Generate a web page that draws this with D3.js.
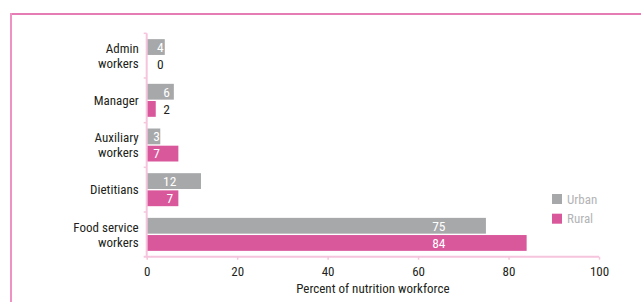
<!DOCTYPE html>
<html>
<head>
<meta charset="utf-8">
<script src="https://cdn.jsdelivr.net/npm/d3@7"></script>
<style>
  body { margin: 0; background: #fff; }
  text { font-family: "Liberation Sans Narrow", "Roboto Condensed", "DejaVu Sans Condensed", sans-serif; }
</style>
</head>
<body>
<div id="chart"></div>
<script>
// chart data
var categories = ["Admin\nworkers", "Manager", "Auxiliary\nworkers", "Dietitians", "Food service\nworkers"];
var series = ["Urban", "Rural"];
var urbanValues = [4, 6, 3, 12, 75];
var ruralValues = [0, 2, 7, 7, 84];
// where the value labels sit (percent units)
var labelAt = [3, 4.4, 2.2, 5.1, 64.6];
var xTicks = [0, 20, 40, 60, 80, 100];

var colors = { Urban: "#a7a8aa", Rural: "#d9579b" };

var svgWidth = 641;
var svgHeight = 302;
var margin = { top: 33.3, right: 42, bottom: 45.3, left: 146.7 };
var width = svgWidth - margin.left - margin.right;
var height = svgHeight - margin.top - margin.bottom;

var svg = d3.select("#chart")
  .append("svg")
  .attr("width", svgWidth)
  .attr("height", svgHeight);

// pink frame (top and left only)
svg.append("line")
  .attr("x1", 10).attr("x2", svgWidth).attr("y1", 14).attr("y2", 14)
  .attr("stroke", "#e57db4").attr("stroke-width", 2);
svg.append("line")
  .attr("x1", 11).attr("x2", 11).attr("y1", 13).attr("y2", svgHeight)
  .attr("stroke", "#ef91c2").attr("stroke-width", 2);

var chartGroup = svg.append("g")
  .attr("transform", `translate(${margin.left}, ${margin.top})`);

var data = categories.map((c, i) => ({
  cat: c,
  idx: i,
  values: [
    { key: "Urban", value: urbanValues[i], at: labelAt[i] },
    { key: "Rural", value: ruralValues[i], at: labelAt[i] }
  ]
}));

var xScale = d3.scaleLinear().domain([0, 100]).range([0, width]);
var yScale = d3.scaleBand().domain(categories).range([0, height]);
var ySub = d3.scaleBand().domain(series).range([0, yScale.bandwidth()])
  .paddingInner(0.08).paddingOuter(0.34);

// bars
var groups = chartGroup.selectAll(".cat")
  .data(data)
  .enter()
  .append("g")
  .attr("transform", d => `translate(0, ${yScale(d.cat)})`);

groups.selectAll("rect")
  .data(d => d.values)
  .enter()
  .append("rect")
  .attr("x", xScale(0))
  .attr("y", d => ySub(d.key))
  .attr("width", d => xScale(d.value))
  .attr("height", ySub.bandwidth())
  .attr("fill", d => colors[d.key]);

groups.selectAll(".val")
  .data(d => d.values)
  .enter()
  .append("text")
  .attr("class", "val")
  .attr("x", d => xScale(d.at))
  .attr("y", d => ySub(d.key) + ySub.bandwidth() / 2)
  .attr("dy", "0.36em")
  .attr("text-anchor", "middle")
  .style("font-size", "13.5px")
  .style("fill", d => xScale(d.value) > xScale(d.at) + 3 ? "#ffffff" : "#231f20")
  .text(d => d.value);

// axes
var bottomAxis = d3.axisBottom(xScale).tickValues(xTicks).tickSize(3).tickSizeOuter(0);
var leftAxis = d3.axisLeft(yScale).tickSize(0).tickFormat("");

var xAxisG = chartGroup.append("g")
  .attr("transform", `translate(0, ${height})`)
  .call(bottomAxis);
xAxisG.select(".domain").attr("stroke", "#f5c4dd").attr("stroke-width", 2)
  .attr("d", `M-3,0H${width}`);
xAxisG.selectAll(".tick line").attr("stroke", "#f5c4dd").attr("stroke-width", 1.5);
xAxisG.selectAll(".tick text")
  .attr("y", 10)
  .style("font-size", "13px")
  .style("fill", "#231f20");

var yAxisG = chartGroup.append("g").call(leftAxis);
yAxisG.select(".domain").attr("stroke", "#f5c4dd").attr("stroke-width", 2)
  .attr("d", `M0,0V${height}`);

// y tick marks at category boundaries
chartGroup.selectAll(".ytick")
  .data(categories)
  .enter()
  .append("line")
  .attr("x1", -3).attr("x2", 0)
  .attr("y1", d => yScale(d)).attr("y2", d => yScale(d))
  .attr("stroke", "#f5c4dd").attr("stroke-width", 1.5);

// category labels
var catLabels = chartGroup.selectAll(".catlabel")
  .data(data)
  .enter()
  .append("text")
  .attr("class", "catlabel")
  .attr("text-anchor", "end")
  .style("font-size", "13px")
  .style("fill", "#231f20")
  .attr("transform", d => `translate(-8, ${yScale(d.cat) + yScale.bandwidth() / 2})`);

catLabels.each(function(d) {
  var lines = d.cat.split("\n");
  var t = d3.select(this);
  lines.forEach((l, i) => {
    t.append("tspan")
      .attr("x", 0)
      .attr("y", (i - (lines.length - 1) / 2) * 15)
      .attr("dy", "0.36em")
      .text(l);
  });
});

// axis title
chartGroup.append("text")
  .attr("x", width / 2)
  .attr("y", height + 36)
  .attr("text-anchor", "middle")
  .style("font-size", "13px")
  .style("fill", "#231f20")
  .text("Percent of nutrition workforce");

// legend
var legend = svg.append("g").attr("transform", "translate(552, 194)");
var legItems = legend.selectAll("g")
  .data(series)
  .enter()
  .append("g")
  .attr("transform", (d, i) => `translate(0, ${i * 19.7})`);
legItems.append("rect")
  .attr("width", 10).attr("height", 10)
  .attr("fill", d => colors[d]);
legItems.append("text")
  .attr("x", 15).attr("y", 5).attr("dy", "0.36em")
  .style("font-size", "13px")
  .style("fill", "#b3b4b6")
  .text(d => d);
</script>
</body>
</html>
